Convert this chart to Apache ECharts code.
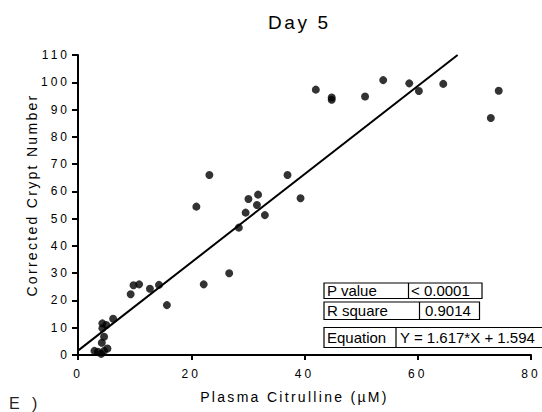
<!DOCTYPE html>
<html><head><meta charset="utf-8">
<script src="https://cdn.jsdelivr.net/npm/echarts@6/dist/echarts.min.js"></script>
<style>
html,body{margin:0;padding:0;background:#fff;}
#c{width:542px;height:412px;}
[style*="spTitle"],[font-family*="spTitle"]{letter-spacing:2.6px;}
[style*="spName"],[font-family*="spName"]{letter-spacing:2.3px;}
[style*="spTick"],[font-family*="spTick"]{letter-spacing:3px;}
[style*="spPanel"],[font-family*="spPanel"]{letter-spacing:4px;}
</style></head>
<body><div id="c"></div>
<script>
// Plasma citrulline (µM) for each animal
const citrulline = [2.9, 3.5, 4.1, 4.6, 5.2, 4.2, 4.6, 4.3, 4.3, 5.0, 6.2, 9.3, 9.8, 10.8, 12.7, 14.3, 15.7, 20.9, 22.2, 23.2, 26.7, 28.4, 29.6, 30.1, 31.6, 31.8, 33.0, 37.0, 39.3, 42.0, 44.8, 44.8, 50.7, 53.9, 58.5, 60.2, 64.5, 72.9, 74.3];
// Corrected crypt number for each animal
const cryptNumber = [1.5, 1.2, 0.4, 1.5, 2.4, 4.5, 6.7, 9.8, 11.6, 11.0, 13.3, 22.3, 25.6, 25.9, 24.3, 25.7, 18.3, 54.4, 25.9, 66.0, 30.0, 46.7, 52.2, 57.2, 55.0, 58.8, 51.3, 66.0, 57.5, 97.3, 94.4, 93.6, 94.8, 100.8, 99.6, 96.8, 99.4, 86.9, 96.9];
// Linear regression reported in the figure
const slope = 1.617;
const intercept = 1.594;
// Axis ranges / ticks
const xMin = 0, xMax = 80, xStep = 20;
const yMin = 0, yMax = 110, yStep = 10;
// Stats table
const statLabels = ['P value', 'R square', 'Equation'];
const statValues = ['< 0.0001', '0.9014', 'Y = 1.617*X + 1.594'];
const titleText = 'Day 5';
const xName = 'Plasma Citrulline (µM)';
const yName = 'Corrected Crypt Number';
const panelLabel = 'E )';

const points = citrulline.map((x, i) => [x, cryptNumber[i]]);
const lineEnd = (yMax - intercept) / slope;
const fitLine = [[xMin, intercept], [lineEnd, yMax]];

const chart = echarts.init(document.getElementById('c'), null, {renderer: 'svg'});

const tableFont = 'Liberation Sans, Arial, sans-serif';
const rows = [
  {y: 283, h: 15.5, x0: 324, div: 408.5, x1: 482, vx: 411},
  {y: 302, h: 17.5, x0: 324, div: 419.5, x1: 479.5, vx: 425},
  {y: 327.5, h: 20, x0: 324, div: 396, x1: 548, vx: 400}
];
const graphics = [];
rows.forEach((r, i) => {
  graphics.push({type: 'rect', shape: {x: r.x0, y: r.y, width: r.x1 - r.x0, height: r.h}, style: {fill: '#fff', stroke: '#000', lineWidth: 1.2}, z: 10});
  graphics.push({type: 'line', shape: {x1: r.div, y1: r.y, x2: r.div, y2: r.y + r.h}, style: {stroke: '#000', lineWidth: 1.2}, z: 11});
  graphics.push({type: 'text', x: r.x0 + 3, y: r.y + r.h / 2, style: {text: statLabels[i], font: '15px ' + tableFont, fill: '#000', textVerticalAlign: 'middle', verticalAlign: 'middle'}, z: 12});
  graphics.push({type: 'text', x: r.vx, y: r.y + r.h / 2, style: {text: statValues[i], font: '15px ' + tableFont, fill: '#000', textVerticalAlign: 'middle', verticalAlign: 'middle'}, z: 12});
});
graphics.push({type: 'text', x: 9, y: 395, style: {text: panelLabel, font: '16px Liberation Sans, spPanel', fill: '#222'}, z: 12});

chart.setOption({
  backgroundColor: '#fff',
  animation: false,
  title: {
    text: titleText, left: 263, top: 8,
    textStyle: {fontSize: 19, fontWeight: 'normal', color: '#000', fontFamily: 'Liberation Sans, spTitle'}
  },
  grid: {left: 78, right: 11, top: 55, bottom: 57, containLabel: false},
  xAxis: {
    type: 'value', min: xMin, max: xMax, interval: xStep,
    name: xName, nameLocation: 'middle', nameGap: 35,
    nameTextStyle: {fontSize: 14, color: '#000', fontFamily: 'Liberation Sans, spName', padding: [0, 20, 0, 0]},
    axisLine: {show: true, onZero: false, lineStyle: {color: '#000', width: 2}},
    axisTick: {show: true, length: 5, lineStyle: {color: '#000', width: 2}},
    axisLabel: {fontSize: 12, color: '#000', margin: 13, fontFamily: 'Liberation Sans, spTick'},
    splitLine: {show: false}
  },
  yAxis: {
    type: 'value', min: yMin, max: yMax, interval: yStep,
    name: yName, nameLocation: 'middle', nameGap: 36,
    nameTextStyle: {fontSize: 14, color: '#000', fontFamily: 'Liberation Sans, spName', padding: [0, 0, 0, 20]},
    axisLine: {show: true, onZero: false, lineStyle: {color: '#000', width: 2}},
    axisTick: {show: true, length: 6, lineStyle: {color: '#000', width: 2}},
    axisLabel: {fontSize: 12, color: '#000', margin: 8, fontFamily: 'Liberation Sans, spTick'},
    splitLine: {show: false}
  },
  series: [
    {
      type: 'line', data: fitLine, showSymbol: false, symbol: 'none',
      lineStyle: {color: '#000', width: 2}, silent: true, z: 2
    },
    {
      type: 'scatter', data: points, symbol: 'circle', symbolSize: 8,
      itemStyle: {color: '#000'}, z: 3
    }
  ],
  graphic: graphics
});
</script>
</body></html>
